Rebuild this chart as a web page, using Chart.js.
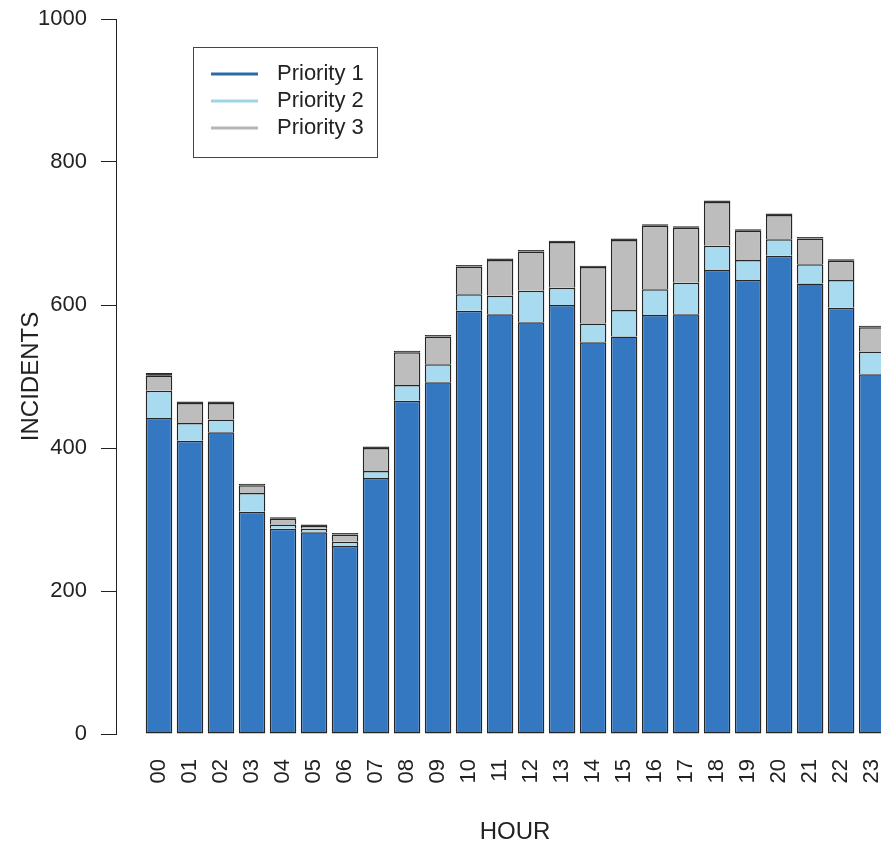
<!DOCTYPE html>
<html>
<head>
<meta charset="utf-8">
<script src="https://cdn.jsdelivr.net/npm/chart.js@4/dist/chart.umd.min.js"></script>
<style>
  html, body { margin: 0; padding: 0; background: #fff; overflow: hidden; }
  #chart { display: block; }
</style>
</head>
<body>
<canvas id="chart" width="914" height="847"></canvas>
<script>
// Data
const hours = ['00', '01', '02', '03', '04', '05', '06', '07', '08', '09', '10', '11',
               '12', '13', '14', '15', '16', '17', '18', '19', '20', '21', '22', '23'];
const priority1 = [442, 410, 422, 311, 287, 282, 263, 358, 466, 492, 592, 587,
                   576, 600, 548, 556, 586, 587, 649, 635, 669, 630, 596, 503];
const priority2 = [38, 25, 18, 26, 6, 5, 6, 10, 22, 25, 23, 26,
                   44, 24, 26, 37, 36, 44, 34, 28, 23, 27, 39, 32];
const priority3 = [21, 28, 23, 11, 8, 4, 10, 32, 46, 39, 39, 50,
                   55, 64, 79, 98, 89, 77, 61, 41, 34, 36, 27, 34];
// thin black cap on top of each bar (not in the legend)
const otherPriority = [4, 2, 2, 2, 2, 2, 2, 2, 2, 2, 2, 2,
                       2, 2, 2, 2, 2, 2, 2, 2, 2, 2, 2, 2];
const yTicks = [0, 200, 400, 600, 800, 1000];

const textColor = '#222';
const font22 = { family: '"Liberation Sans", Arial, sans-serif', size: 22 };
const font24 = { family: '"Liberation Sans", Arial, sans-serif', size: 24 };

function toPoints(values) {
    return values.map((v, i) => ({ x: i, y: v }));
}

// segments above the first skip their bottom edge, so the one below draws the divider
function makeDataset(label, values, color, legendColor, skip) {
    return {
        label: label,
        data: toPoints(values),
        backgroundColor: color,
        borderColor: '#262626',
        borderWidth: 1.5,
        borderSkipped: skip,
        barPercentage: 0.855,
        categoryPercentage: 1,
        legendColor: legendColor
    };
}

// Legend drawn inside the plot, R style
const boxLegend = {
    id: 'boxLegend',
    afterDraw(chart, args, opts) {
        const ctx = chart.ctx;
        ctx.save();
        ctx.strokeStyle = '#444';
        ctx.lineWidth = 1;
        ctx.strokeRect(opts.x + 0.5, opts.y + 0.5, opts.w, opts.h);
        ctx.font = '22px "Liberation Sans", Arial, sans-serif';
        ctx.fillStyle = textColor;
        ctx.textBaseline = 'middle';
        const items = chart.data.datasets.filter(d => d.legendColor);
        items.forEach((d, i) => {
            const y = opts.y + opts.firstRow + i * opts.rowGap;
            ctx.strokeStyle = d.legendColor;
            ctx.lineWidth = 3;
            ctx.beginPath();
            ctx.moveTo(opts.x + 18, y);
            ctx.lineTo(opts.x + 65, y);
            ctx.stroke();
            ctx.fillText(d.label, opts.x + 84, y);
        });
        ctx.restore();
    }
};

new Chart(document.getElementById('chart'), {
    type: 'bar',
    data: {
        datasets: [
            makeDataset('Priority 1', priority1, '#3478c1', '#2f6aa8', false),
            makeDataset('Priority 2', priority2, '#a8dbef', '#9fd3e6', 'start'),
            makeDataset('Priority 3', priority3, '#bdbdbd', '#b5b5b5', 'start'),
            makeDataset('Other', otherPriority, '#111111', null, 'start')
        ]
    },
    options: {
        responsive: false,
        animation: false,
        layout: { padding: { top: 19, right: 0, left: 0, bottom: 0 } },
        plugins: {
            legend: { display: false },
            tooltip: { enabled: false },
            boxLegend: { x: 193, y: 47, w: 184, h: 110, firstRow: 27, rowGap: 27 }
        },
        scales: {
            x: {
                type: 'linear',
                stacked: true,
                offset: false,
                min: -1.387,
                max: 24.35,
                grid: { display: false, drawTicks: false, offset: false },
                border: { display: false },
                afterBuildTicks: (scale) => {
                    scale.ticks = hours.map((h, i) => ({ value: i }));
                },
                afterFit: (scale) => {
                    scale.height = 113;
                    scale.paddingLeft = 0;
                    scale.paddingRight = 0;
                },
                ticks: {
                    autoSkip: false,
                    minRotation: 90,
                    maxRotation: 90,
                    padding: 25,
                    color: textColor,
                    font: font22,
                    callback: (value) => hours[value]
                },
                title: {
                    display: true,
                    text: 'HOUR',
                    color: textColor,
                    font: font24,
                    padding: { top: 0, bottom: 0 }
                }
            },
            y: {
                stacked: true,
                min: 0,
                max: 1000,
                afterBuildTicks: (scale) => {
                    scale.ticks = yTicks.map(v => ({ value: v }));
                },
                afterFit: (scale) => {
                    scale.width = 116;
                    scale.paddingTop = 0;
                    scale.paddingBottom = 0;
                },
                grid: {
                    drawOnChartArea: false,
                    drawTicks: true,
                    tickLength: 15,
                    color: textColor
                },
                border: { display: true, color: textColor, width: 1 },
                ticks: {
                    padding: 14,
                    color: textColor,
                    font: font22,
                    callback: (value) => String(value)
                },
                title: {
                    display: true,
                    text: 'INCIDENTS',
                    color: textColor,
                    font: font24,
                    padding: { top: 17, bottom: 0 }
                }
            }
        }
    },
    plugins: [boxLegend]
});
</script>
</body>
</html>
